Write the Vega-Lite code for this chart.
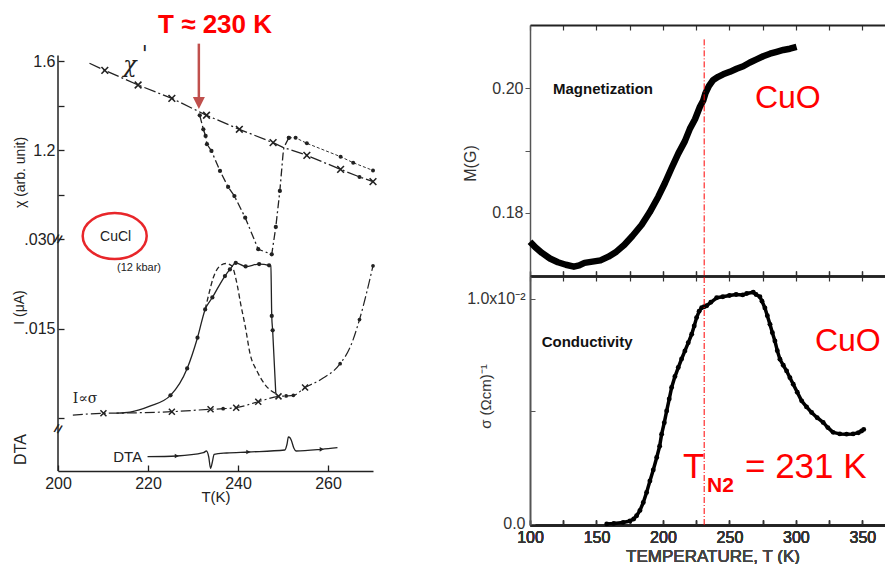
{
"$schema": "https://vega.github.io/schema/vega-lite/v6.json",
"background": "white",
"padding": {"left": 12, "top": 11, "right": 0, "bottom": 0},
"bounds": "flush",
"spacing": 157,
"config": {
  "view": {"stroke": null},
  "axis": {"grid": false, "labelFont": "Liberation Sans", "titleFont": "Liberation Sans", "titleFontWeight": "normal", "labelFlush": false},
  "text": {"font": "Liberation Sans"}
},
"datasets": {
  "chiCross": [
    {"T":207.0,"v":1.590,"m":""},{"T":210.4,"v":1.558,"m":"x"},{"T":217.8,"v":1.492,"m":"x"},{"T":225.3,"v":1.432,"m":"x"},
    {"T":233.0,"v":1.356,"m":"x"},{"T":240.3,"v":1.293,"m":"x"},{"T":247.8,"v":1.233,"m":"x"},{"T":250.0,"v":1.212,"m":""},
    {"T":255.3,"v":1.176,"m":"x"},{"T":262.8,"v":1.113,"m":"x"},{"T":267.0,"v":1.079,"m":"o"},{"T":270.0,"v":1.058,"m":"x"}],
  "chiDrop": [
    {"T":231.5,"v":1.356,"m":"o"},{"T":232.3,"v":1.293,"m":"o"},{"T":232.8,"v":1.263,"m":"o"},{"T":233.1,"v":1.226,"m":"o"},
    {"T":234.1,"v":1.196,"m":"o"},{"T":236.0,"v":1.106,"m":"o"},{"T":237.8,"v":1.034,"m":"o"},{"T":239.2,"v":0.993,"m":"o"},
    {"T":241.6,"v":0.896,"m":"o"},{"T":244.5,"v":0.754,"m":"o"},{"T":247.5,"v":0.731,"m":"o"},{"T":248.4,"v":0.854,"m":"o"},
    {"T":249.3,"v":1.016,"m":"o"},{"T":250.0,"v":1.180,"m":""},{"T":250.2,"v":1.212,"m":""},{"T":251.3,"v":1.255,"m":"o"}],
  "chiUpper": [
    {"T":251.3,"v":1.255,"m":"o"},{"T":252.8,"v":1.255,"m":"o"},{"T":255.3,"v":1.230,"m":"o"},{"T":262.8,"v":1.170,"m":"o"},
    {"T":265.6,"v":1.143,"m":"o"},{"T":270.0,"v":1.108,"m":"o"}],
  "chiText": [{"T":216.0,"v":1.580,"label":"χ"},{"T":219.3,"v":1.63,"label":"'"}],
  "leftTitle": [{"T":234.9,"v":1.726,"label":"T ≈ 230 K"}],
  "axisLine": [{"T":200,"v":1.625,"v2":-0.2427}],
  "arrowShaft": [{"T":231.3,"v":1.678,"v2":1.42}],
  "arrowHead": [{"T":231.3,"v":1.411}],
  "breaks": [{"T":200,"v":0.0300},{"T":200,"v":-0.00184}],
  "iBase": [
    {"T":203.3,"v":0.00050,"m":""},{"T":210.1,"v":0.00079,"m":"x"},{"T":215.9,"v":0.00085,"m":""},{"T":225.3,"v":0.00106,"m":"x"},
    {"T":233.9,"v":0.00146,"m":"x"},{"T":236.7,"v":0.00156,"m":"o"},{"T":239.6,"v":0.00173,"m":"x"},{"T":244.5,"v":0.00273,"m":"x"},
    {"T":249.0,"v":0.00363,"m":"x"},{"T":250.7,"v":0.00370,"m":"o"},{"T":252.3,"v":0.00380,"m":"o"},{"T":254.9,"v":0.00510,"m":"x"},
    {"T":258.5,"v":0.00650,"m":""},{"T":262.7,"v":0.00910,"m":"o"},{"T":265.0,"v":0.01200,"m":""},{"T":267.0,"v":0.01650,"m":"o"},
    {"T":270.0,"v":0.02550,"m":"o"}],
  "iHeat": [
    {"T":213.0,"v":0.00082,"m":""},{"T":216.0,"v":0.00100,"m":""},{"T":220.4,"v":0.00200,"m":""},{"T":225.0,"v":0.00380,"m":"o"},
    {"T":228.7,"v":0.00830,"m":"o"},{"T":231.0,"v":0.01346,"m":"o"},{"T":232.7,"v":0.01820,"m":"o"},{"T":234.3,"v":0.02020,"m":"o"},
    {"T":237.1,"v":0.02380,"m":"o"},{"T":238.2,"v":0.02490,"m":"o"},{"T":239.5,"v":0.02600,"m":"o"},{"T":241.7,"v":0.02540,"m":"o"},
    {"T":244.7,"v":0.02580,"m":"o"},{"T":246.9,"v":0.02560,"m":"o"},{"T":247.3,"v":0.02540,"m":""},{"T":247.5,"v":0.01710,"m":"o"},
    {"T":247.7,"v":0.01470,"m":"o"},{"T":248.4,"v":0.00410,"m":""}],
  "iDash": [
    {"T":232.7,"v":0.01820},{"T":233.4,"v":0.02040},{"T":234.5,"v":0.02350},{"T":236.0,"v":0.02550},{"T":237.3,"v":0.02590},
    {"T":238.6,"v":0.02550},{"T":239.8,"v":0.02240},{"T":240.6,"v":0.01910},{"T":241.6,"v":0.01540},{"T":242.7,"v":0.01070},
    {"T":244.2,"v":0.00790},{"T":246.0,"v":0.00560},{"T":248.4,"v":0.00410}],
  "leftLabels": [{"T":212.8,"v":0.0303,"label":"CuCl"},{"T":218.0,"v":0.02514,"label":"(12 kbar)"},{"T":203.3,"v":0.00318,"label":"I∝σ"}],
  "ellipse": [{"T":212.6,"v":0.0305}],
  "dta": [
    {"T":219.9,"v":0.03,"m":""},{"T":226.4,"v":0.10,"m":"a"},{"T":232.3,"v":0.43,"m":""},{"T":233.0,"v":0.60,"m":""},
    {"T":233.5,"v":0.0,"m":""},{"T":233.9,"v":-1.13,"m":""},{"T":234.3,"v":-0.5,"m":""},{"T":234.7,"v":0.27,"m":""},
    {"T":237.5,"v":0.40,"m":""},{"T":242.3,"v":0.50,"m":"a"},{"T":250.4,"v":0.70,"m":""},{"T":250.9,"v":1.3,"m":""},
    {"T":251.2,"v":2.0,"m":""},{"T":251.6,"v":1.9,"m":""},{"T":251.9,"v":1.6,"m":""},{"T":252.4,"v":0.9,"m":""},
    {"T":252.9,"v":0.6,"m":""},{"T":258.6,"v":0.77,"m":"a"},{"T":262.1,"v":0.93,"m":""}],
  "dtaLabel": [{"T":218.7,"v":0.0,"label":"DTA"}],
  "mag": [
    {"T":100,"M":0.1754},{"T":104,"M":0.1745},{"T":109,"M":0.1736},{"T":115,"M":0.1727},{"T":121,"M":0.1721},{"T":127,"M":0.1717},
    {"T":133,"M":0.1714},{"T":137,"M":0.1716},{"T":141,"M":0.1720},{"T":147,"M":0.1722},{"T":153,"M":0.1724},{"T":159,"M":0.1730},
    {"T":165,"M":0.1738},{"T":171,"M":0.1749},{"T":177,"M":0.1763},{"T":184,"M":0.1781},{"T":190,"M":0.1801},{"T":196.5,"M":0.1826},
    {"T":201.5,"M":0.1848},{"T":206.5,"M":0.1872},{"T":211.5,"M":0.1895},{"T":216.5,"M":0.1915},{"T":220.3,"M":0.1935},{"T":224.1,"M":0.1950},
    {"T":227.8,"M":0.1970},{"T":230.3,"M":0.1980},{"T":232,"M":0.1992},{"T":234.5,"M":0.2003},{"T":237.8,"M":0.2013},{"T":241.5,"M":0.2018},
    {"T":245.3,"M":0.2022},{"T":250.3,"M":0.2026},{"T":255.4,"M":0.2031},{"T":260.4,"M":0.2035},{"T":265.4,"M":0.2041},{"T":270.4,"M":0.2046},
    {"T":275.4,"M":0.2051},{"T":280.5,"M":0.2055},{"T":285.5,"M":0.2058},{"T":290.5,"M":0.2061},{"T":295.5,"M":0.2063},{"T":300.5,"M":0.2066}],
  "cond": [
    {"T":157.7,"s":0.00000},{"T":163,"s":0.00002},{"T":170,"s":0.00006},{"T":175.2,"s":0.00013},{"T":178,"s":0.00022},{"T":180.2,"s":0.00036},
    {"T":182.7,"s":0.00060},{"T":185.2,"s":0.00095},{"T":187.7,"s":0.00140},{"T":190.2,"s":0.00191},{"T":192.7,"s":0.00240},{"T":195.3,"s":0.00295},
    {"T":197.5,"s":0.00345},{"T":199.0,"s":0.00399},{"T":201,"s":0.00450},{"T":202.8,"s":0.00502},{"T":204.7,"s":0.00555},{"T":206.5,"s":0.00606},
    {"T":209,"s":0.00655},{"T":211.5,"s":0.00695},{"T":214,"s":0.00733},{"T":216.5,"s":0.00769},{"T":219,"s":0.00805},{"T":221.6,"s":0.00843},
    {"T":223.5,"s":0.00880},{"T":225.3,"s":0.00917},{"T":227.2,"s":0.00945},{"T":229.1,"s":0.00961},{"T":231,"s":0.00965},{"T":232.9,"s":0.00970},
    {"T":236,"s":0.00985},{"T":240.4,"s":0.01005},{"T":245,"s":0.01010},{"T":250,"s":0.01015},{"T":255,"s":0.01020},{"T":260,"s":0.01018},
    {"T":263,"s":0.01024},{"T":267.9,"s":0.01030},{"T":270,"s":0.01020},{"T":272.9,"s":0.01010},{"T":274.5,"s":0.00990},{"T":276.7,"s":0.00960},
    {"T":278.5,"s":0.00925},{"T":280.5,"s":0.00887},{"T":282.3,"s":0.00850},{"T":284.2,"s":0.00813},{"T":286,"s":0.00770},{"T":288,"s":0.00732},
    {"T":290.5,"s":0.00705},{"T":293,"s":0.00680},{"T":295.5,"s":0.00650},{"T":298,"s":0.00621},{"T":301,"s":0.00585},{"T":304.3,"s":0.00547},
    {"T":308,"s":0.00520},{"T":311.8,"s":0.00495},{"T":316,"s":0.00472},{"T":320.5,"s":0.00451},{"T":324,"s":0.00428},{"T":328,"s":0.00407},
    {"T":333,"s":0.00400},{"T":338.1,"s":0.00399},{"T":343,"s":0.00400},{"T":347,"s":0.00405},{"T":349.4,"s":0.00413},{"T":351,"s":0.00420}],
  "ruleTop": [{"T":231,"M":0.2078,"M2":0.1699}],
  "ruleBottom": [{"T":231,"s":-0.00005,"s2":0.01102}],
  "topLabels": [{"T":117.3,"M":0.19984,"label":"Magnetization"},{"T":269.2,"M":0.19845,"label":"CuO"}],
  "bottomLabels": [{"T":108.8,"s":0.0081,"label":"Conductivity"},{"T":314.3,"s":0.00813,"label":"CuO"},{"T":215.0,"s":0.00206,"label":"T"},{"T":233.1,"s":0.001436,"label":"N2"},{"T":261.7,"s":0.00206,"label":"= 231 K"}]
},
"hconcat": [
  {
    "width": 315, "height": 446,
    "encoding": {"x": {"field": "T", "type": "quantitative", "scale": {"domain": [200, 270], "nice": false, "zero": false},
      "axis": {"values": [200, 220, 240, 260], "tickSize": -6, "labelPadding": 10, "domainColor": "#222", "domainWidth": 1.5, "tickColor": "#222", "tickWidth": 1.3, "labelFontSize": 16, "labelColor": "#222", "title": "T(K)", "titleFontSize": 15, "titleColor": "#222", "titleY": 25, "titleBaseline": "middle"}}},
    "layer": [
      {
        "encoding": {"y": {"field": "v", "type": "quantitative", "scale": {"domain": [-0.2427, 1.7618], "nice": false, "zero": false},
          "axis": {"orient": "left", "values": [1.0, 1.2, 1.4, 1.6], "labelExpr": "abs(datum.value-1.6)<0.01 ? '1.6' : (abs(datum.value-1.2)<0.01 ? '1.2' : '')", "tickSize": -6, "labelPadding": 9, "domain": false, "tickColor": "#222", "tickWidth": 1.3, "labelFontSize": 16, "labelColor": "#222", "title": "χ (arb. unit)", "titleFontSize": 14, "titleColor": "#222", "titleX": -38, "titleY": 147, "titleBaseline": "middle", "titleAlign": "center"}}},
        "layer": [
          {"data": {"name": "axisLine"}, "mark": {"type": "rule", "color": "#222", "strokeWidth": 1.5}, "encoding": {"y2": {"field": "v2"}}},
          {"data": {"name": "chiCross"}, "mark": {"type": "line", "color": "#222", "strokeWidth": 1.3, "strokeDash": [12, 3, 2, 3]}},
          {"data": {"name": "chiCross"}, "transform": [{"filter": "datum.m == 'x'"}], "mark": {"type": "point", "shape": "M-1,-1L1,1M-1,1L1,-1", "filled": false, "color": "#222", "strokeWidth": 1.6, "size": 45, "opacity": 1}},
          {"data": {"name": "chiCross"}, "transform": [{"filter": "datum.m == 'o'"}], "mark": {"type": "point", "shape": "circle", "filled": true, "color": "#222", "size": 16, "opacity": 1}},
          {"data": {"name": "chiDrop"}, "mark": {"type": "line", "color": "#222", "strokeWidth": 1.3, "strokeDash": [8, 3, 2, 3]}},
          {"data": {"name": "chiDrop"}, "transform": [{"filter": "datum.m == 'o'"}], "mark": {"type": "point", "shape": "circle", "filled": true, "color": "#222", "size": 18, "opacity": 1}},
          {"data": {"name": "chiUpper"}, "mark": {"type": "line", "color": "#333", "strokeWidth": 1, "strokeDash": [3, 2]}},
          {"data": {"name": "chiUpper"}, "mark": {"type": "point", "shape": "circle", "filled": true, "color": "#222", "size": 16, "opacity": 1}},
          {"data": {"name": "chiText"}, "mark": {"type": "text", "font": "DejaVu Serif", "fontStyle": "italic", "fontSize": 22, "color": "#222", "baseline": "middle", "align": "center"}, "encoding": {"text": {"field": "label"}}},
          {"data": {"name": "leftTitle"}, "mark": {"type": "text", "fontSize": 26, "fontWeight": "bold", "color": "#ff0000", "baseline": "alphabetic", "align": "center"}, "encoding": {"text": {"field": "label"}}},
          {"data": {"name": "arrowShaft"}, "mark": {"type": "rule", "color": "#c0504d", "strokeWidth": 2.5}, "encoding": {"y2": {"field": "v2"}}},
          {"data": {"name": "arrowHead"}, "mark": {"type": "point", "shape": "M-1,-1L0,1L1,-1Z", "filled": true, "color": "#c0504d", "size": 144, "opacity": 1}}
        ]
      },
      {
        "encoding": {"y": {"field": "v", "type": "quantitative", "scale": {"domain": [-0.00888, 0.06587], "nice": false, "zero": false},
          "axis": {"orient": "left", "values": [0, 0.015, 0.03], "labelExpr": "datum.value > 0.02 ? '.030' : (datum.value > 0.01 ? '.015' : '')", "tickSize": -6, "labelPadding": 9, "domain": false, "tickColor": "#222", "tickWidth": 1.3, "labelFontSize": 16, "labelColor": "#222", "title": "I (μA)", "titleFontSize": 14, "titleColor": "#222", "titleX": -39, "titleY": 282, "titleBaseline": "middle", "titleAlign": "center"}}},
        "layer": [
          {"data": {"name": "breaks"}, "mark": {"type": "text", "text": "//", "fontSize": 12, "fontWeight": "bold", "color": "#222", "baseline": "middle", "align": "center", "angle": 20}},
          {"data": {"name": "iBase"}, "mark": {"type": "line", "color": "#222", "strokeWidth": 1.2, "strokeDash": [10, 3, 2, 3], "interpolate": "monotone"}},
          {"data": {"name": "iBase"}, "transform": [{"filter": "datum.m == 'x'"}], "mark": {"type": "point", "shape": "M-1,-1L1,1M-1,1L1,-1", "filled": false, "color": "#222", "strokeWidth": 1.5, "size": 36, "opacity": 1}},
          {"data": {"name": "iBase"}, "transform": [{"filter": "datum.m == 'o'"}], "mark": {"type": "point", "shape": "circle", "filled": true, "color": "#222", "size": 14, "opacity": 1}},
          {"data": {"name": "iHeat"}, "mark": {"type": "line", "color": "#222", "strokeWidth": 1.3, "interpolate": "monotone"}},
          {"data": {"name": "iHeat"}, "transform": [{"filter": "datum.m == 'o'"}], "mark": {"type": "point", "shape": "circle", "filled": true, "color": "#222", "size": 18, "opacity": 1}},
          {"data": {"name": "iDash"}, "mark": {"type": "line", "color": "#222", "strokeWidth": 1.3, "strokeDash": [5, 3], "interpolate": "monotone"}},
          {"data": {"name": "leftLabels"}, "transform": [{"filter": "datum.label == 'CuCl'"}], "mark": {"type": "text", "fontSize": 14, "color": "#222", "baseline": "middle", "align": "center"}, "encoding": {"text": {"field": "label"}}},
          {"data": {"name": "leftLabels"}, "transform": [{"filter": "datum.label == '(12 kbar)'"}], "mark": {"type": "text", "fontSize": 11, "color": "#222", "baseline": "middle", "align": "center"}, "encoding": {"text": {"field": "label"}}},
          {"data": {"name": "leftLabels"}, "transform": [{"filter": "datum.label == 'I∝σ'"}], "mark": {"type": "text", "font": "DejaVu Serif", "fontSize": 14, "color": "#222", "baseline": "middle", "align": "left"}, "encoding": {"text": {"field": "label"}}},
          {"data": {"name": "ellipse"}, "mark": {"type": "point", "shape": "M-1,0A1,0.72,0,1,1,1,0A1,0.72,0,1,1,-1,0Z", "filled": false, "color": "#e8262a", "strokeWidth": 2.5, "size": 4096, "opacity": 1}}
        ]
      },
      {
        "encoding": {"y": {"field": "v", "type": "quantitative", "scale": {"domain": [-1.4, 43.2], "nice": false, "zero": false},
          "axis": {"orient": "left", "values": [0], "domain": false, "ticks": false, "labels": false, "title": "DTA", "titleFontSize": 16, "titleColor": "#222", "titleX": -38, "titleY": 424, "titleBaseline": "middle", "titleAlign": "center"}}},
        "layer": [
          {"data": {"name": "dta"}, "mark": {"type": "line", "color": "#222", "strokeWidth": 1.3, "interpolate": "monotone"}},
          {"data": {"name": "dta"}, "transform": [{"filter": "datum.m == 'a'"}], "mark": {"type": "point", "shape": "triangle-right", "filled": true, "color": "#222", "size": 22, "opacity": 1}},
          {"data": {"name": "dtaLabel"}, "mark": {"type": "text", "fontSize": 15, "color": "#222", "baseline": "middle", "align": "right"}, "encoding": {"text": {"field": "label"}}}
        ]
      }
    ],
    "resolve": {"scale": {"y": "independent"}, "axis": {"y": "independent"}}
  },
  {
    "spacing": 0,
    "bounds": "flush",
    "vconcat": [
      {
        "width": 355, "height": 251,
        "encoding": {
          "x": {"field": "T", "type": "quantitative", "scale": {"domain": [100, 367], "nice": false, "zero": false},
            "axis": {"orient": "bottom", "values": [100,125,150,175,200,225,250,275,300,325,350], "labels": false, "tickSize": -5, "domainWidth": 2, "domainColor": "#222", "tickColor": "#333", "tickWidth": 1.2, "title": null}},
          "y": {"field": "M", "type": "quantitative", "scale": {"domain": [0.1699, 0.2101], "nice": false, "zero": false},
            "axis": {"values": [0.18, 0.19, 0.20], "labelExpr": "abs(datum.value-0.19)<0.001 ? '' : format(datum.value, '.2f')", "tickSize": 5, "labelPadding": 2, "domainColor": "#555", "domainWidth": 1.5, "tickColor": "#555", "labelFontSize": 16, "labelColor": "#333", "title": "M(G)", "titleFontSize": 16, "titleColor": "#333", "titleX": -60, "titleY": 138, "titleBaseline": "middle", "titleAlign": "center"}}
        },
        "layer": [
          {"data": {"name": "mag"}, "mark": {"type": "line", "color": "#000", "strokeWidth": 6.5, "strokeJoin": "round"}},
          {"data": {"name": "ruleTop"}, "mark": {"type": "rule", "color": "#ff0000", "strokeWidth": 1, "strokeDash": [6, 2, 1, 2]},
            "encoding": {"x": {"field": "T", "type": "quantitative", "scale": {"domain": [100, 367], "nice": false, "zero": false},
              "axis": {"orient": "top", "values": [100,125,150,175,200,225,250,275,300,325,350], "labels": false, "tickSize": -5, "domainWidth": 2, "domainColor": "#222", "tickColor": "#333", "tickWidth": 1.2, "title": null}},
              "y2": {"field": "M2"}}},
          {"data": {"name": "topLabels"}, "transform": [{"filter": "datum.label == 'Magnetization'"}], "mark": {"type": "text", "fontSize": 15, "fontWeight": "bold", "color": "#111", "align": "left", "baseline": "middle"}, "encoding": {"text": {"field": "label"}}},
          {"data": {"name": "topLabels"}, "transform": [{"filter": "datum.label == 'CuO'"}], "mark": {"type": "text", "fontSize": 32, "color": "#ff0000", "align": "left", "baseline": "middle"}, "encoding": {"text": {"field": "label"}}}
        ],
        "resolve": {"axis": {"x": "independent"}}
      },
      {
        "width": 355, "height": 249,
        "encoding": {
          "x": {"field": "T", "type": "quantitative", "scale": {"domain": [100, 367], "nice": false, "zero": false},
            "axis": {"orient": "bottom", "values": [100,125,150,175,200,225,250,275,300,325,350], "labelExpr": "datum.value % 50 === 0 ? datum.label : ''", "tickSize": -5, "labelPadding": 9, "domainWidth": 2, "domainColor": "#222", "tickColor": "#333", "tickWidth": 1.2, "labelFontSize": 16, "labelColor": "#333", "title": "TEMPERATURE, T (K)", "titleFontSize": 17, "titleColor": "#444", "titleX": 182.5, "titleY": 31, "titleBaseline": "middle"}},
          "y": {"field": "s", "type": "quantitative", "scale": {"domain": [-0.00005, 0.01102], "nice": false, "zero": false},
            "axis": {"values": [0, 0.005, 0.01], "labelExpr": "datum.value > 0.008 ? '1.0x10⁻²' : (datum.value < 0.001 ? '0.0 ' : '')", "tickSize": -5, "labelPadding": 10, "domainColor": "#555", "domainWidth": 2, "tickColor": "#555", "labelFontSize": 16, "labelColor": "#333", "title": "σ (Ωcm)⁻¹", "titleFontSize": 15, "titleColor": "#333", "titleX": -45, "titleY": 120, "titleBaseline": "middle", "titleAlign": "center"}}
        },
        "layer": [
          {"data": {"name": "cond"}, "mark": {"type": "line", "color": "#000", "strokeWidth": 3.5, "strokeJoin": "round"}},
          {"data": {"name": "cond"}, "mark": {"type": "point", "shape": "circle", "filled": true, "color": "#000", "size": 24, "opacity": 1}},
          {"data": {"name": "ruleBottom"}, "mark": {"type": "rule", "color": "#ff0000", "strokeWidth": 1, "strokeDash": [6, 2, 1, 2]},
            "encoding": {"x": {"field": "T", "type": "quantitative", "scale": {"domain": [100, 367], "nice": false, "zero": false},
              "axis": {"orient": "top", "values": [100,125,150,175,200,225,250,275,300,325,350], "labels": false, "tickSize": -5, "domainWidth": 2, "domainColor": "#222", "tickColor": "#333", "tickWidth": 1.2, "title": null}},
              "y2": {"field": "s2"}}},
          {"data": {"name": "bottomLabels"}, "transform": [{"filter": "datum.label == 'Conductivity'"}], "mark": {"type": "text", "fontSize": 15, "fontWeight": "bold", "color": "#111", "align": "left", "baseline": "middle"}, "encoding": {"text": {"field": "label"}}},
          {"data": {"name": "bottomLabels"}, "transform": [{"filter": "datum.label == 'CuO'"}], "mark": {"type": "text", "fontSize": 32, "color": "#ff0000", "align": "left", "baseline": "middle", "clip": true}, "encoding": {"text": {"field": "label"}}},
          {"data": {"name": "bottomLabels"}, "transform": [{"filter": "datum.label == 'T' || datum.label == '= 231 K'"}], "mark": {"type": "text", "fontSize": 35, "color": "#ff0000", "align": "left", "baseline": "alphabetic"}, "encoding": {"text": {"field": "label"}}},
          {"data": {"name": "bottomLabels"}, "transform": [{"filter": "datum.label == 'N2'"}], "mark": {"type": "text", "fontSize": 21, "fontWeight": "bold", "color": "#ff0000", "align": "left", "baseline": "alphabetic"}, "encoding": {"text": {"field": "label"}}}
        ],
        "resolve": {"axis": {"x": "independent"}}
      }
    ]
  }
]
}
